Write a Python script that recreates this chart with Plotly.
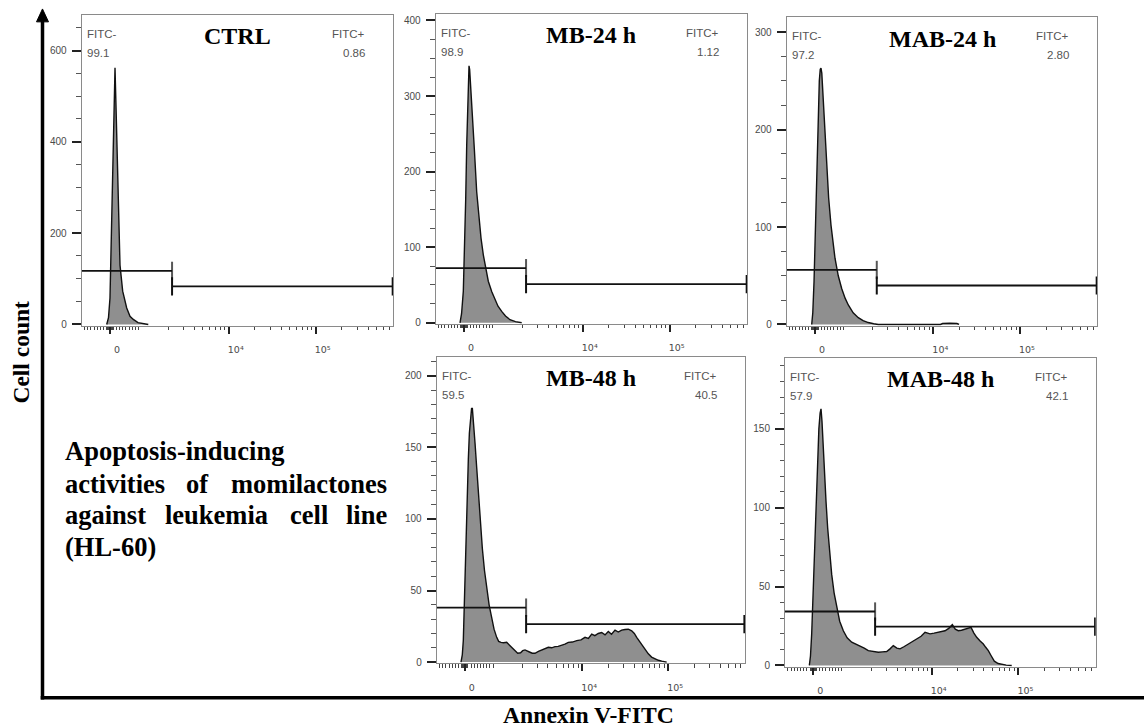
import numpy as np
import plotly.graph_objects as go

W, H = 1144, 728

# ---------------- data (display channel 0-1000 on the biexponential axis, cell counts) ----------------
panel_names = ["CTRL", "MB-24 h", "MAB-24 h", "MB-48 h", "MAB-48 h"]
fitc_neg = ["99.1", "98.9", "97.2", "59.5", "57.9"]
fitc_pos = ["0.86", "1.12", "2.80", "40.5", "42.1"]

ctrl_ch = [80.2, 86, 90.8, 95.6, 99.5, 103.7, 106.9, 110, 114.2, 118.7, 122.9, 131.5, 144.4,
           155, 165.6, 180.7, 197.7, 213.7]
ctrl_count = [0, 15, 58, 200, 350, 500, 562, 480, 348, 220, 130, 73, 36, 18, 11, 4, 1.5, 0]

mb24_ch = [78, 83, 88.6, 92.5, 96.3, 99.5, 102.7, 105, 106.9, 109, 112, 117.5, 124, 131.6, 138,
           145.4, 152.8, 160, 168.8, 180, 190.3, 200, 211.8, 224, 238.4, 256, 276]
mb24_count = [0, 12, 41.6, 95, 164, 235, 296, 330, 340, 335, 315, 287, 230, 173, 140, 112, 90, 72,
              55, 41, 31, 22, 15, 9, 4, 1.5, 0]

mab24_ch = [80.5, 84, 88, 91, 94.3, 98, 101.8, 105, 108, 110.4, 113, 117.8, 123, 128.8, 135, 142.6,
            149, 155.5, 166, 177, 188, 198.3, 214, 230.5, 246, 262.7, 280, 294.9, 495, 502, 525,
            548, 555]
mab24_count = [0, 12, 44, 85, 129, 178, 221, 250, 262, 263, 258, 231, 197, 163, 130, 102, 82, 68,
               50, 37, 27, 20, 12, 7, 4, 2, 0.8, 0, 0, 1, 1.2, 1, 0]

mb48_ch = [78.8, 83, 86.3, 90, 94, 98, 102.6, 106, 110, 113, 115.6, 118, 121, 124.3, 130, 135, 141,
           148, 155, 162.2, 170, 178.4, 186, 194.6, 201, 208.6, 217, 227, 235, 243.3, 252, 262.7,
           272, 279, 286.4, 294, 302.6, 310, 318.9, 330, 340.6, 351, 362, 373, 383.7, 394, 405.4,
           416, 426.9, 440, 454.2, 468, 481.1, 492, 502.8, 513, 524, 535.2, 546, 556.6, 567,
           578.4, 589, 600, 611, 621.5, 632.5, 641, 648.7, 656, 665, 676, 686.4, 697, 708, 719,
           729.8, 746]
mb48_count = [0, 5, 15, 45, 84, 115, 141.7, 160, 172, 177, 177.4, 172, 163, 153, 135, 118.7, 98,
              79.5, 64, 51.8, 40, 31, 23, 17.3, 14.5, 13.8, 13.5, 13.8, 12, 10.4, 8, 6.2, 6.5, 8,
              8.5, 7.5, 6.9, 6.2, 6.2, 7.5, 8.5, 9, 10.4, 10, 10.8, 11, 11.5, 12.5, 13.8, 14, 15,
              15.5, 17.3, 16.5, 19.6, 18.5, 20, 20.7, 19, 21.4, 19.5, 22.4, 21, 22.4, 22.8, 23,
              21.9, 20, 17.3, 15, 12.7, 9, 5.8, 3.5, 2.3, 1.3, 0.7, 0]

mab48_ch = [78.3, 82, 85.9, 91, 96.6, 101, 105.2, 109, 113, 115.9, 119, 122, 126.5, 132, 137.4, 144,
            150.3, 158, 166.4, 176, 187.7, 200, 214.7, 228, 241.4, 255, 268.1, 284, 300.3, 314,
            327.4, 338, 348.6, 360, 370.2, 384, 396.9, 410, 424, 438, 450.7, 459, 466.8, 480,
            493.5, 505, 515, 527, 538.6, 548, 557.8, 568, 579.4, 590, 598.7, 608, 617, 628, 638.3,
            646, 654.4, 664, 673.7, 686, 697.5, 712, 729.7]
mab48_count = [0, 6, 20, 48, 78.7, 105, 131, 150, 160, 162.7, 155, 142, 125, 104, 87, 70, 57.7, 46,
               36.7, 28, 22, 17.5, 14.7, 13.5, 12.6, 11, 9.4, 8.7, 8.4, 8.6, 8.8, 10.5, 12.6, 11,
               10.5, 12, 13.6, 15, 16.8, 18.5, 21, 20.5, 20, 20.5, 21, 21.5, 22, 23.5, 25.8, 23,
               22, 22.3, 23.1, 23.5, 24.1, 20.5, 17.8, 15.5, 13.6, 11.5, 9.4, 6, 2.7, 1.2, 0.6,
               0.2, 0]

hist_ch = [ctrl_ch, mb24_ch, mab24_ch, mb48_ch, mab48_ch]
hist_count = [ctrl_count, mb24_count, mab24_count, mb48_count, mab48_count]

# gates: split channel, left (FITC-) gate level, right (FITC+) gate level
gate_split = 290
gate_end = 998
gate_neg_level = [117.5, 72.3, 56, 38.1, 34.2]
gate_pos_level = [83.5, 51.2, 40, 26.6, 24.6]

# y axes: range and major / minor tick steps
y_top = [678, 408.7, 315.4, 213.2, 195.2]
y_bottom = [-2.8, -1.3, -1.3, -0.9, -0.8]
y_major = [200, 100, 100, 50, 50]
y_minor = [50, 25, 25, 10, 10]

# panel frames in pixels: left, right, top, bottom
frames = [
    (81.7, 393.3, 15, 328),
    (435.7, 747.3, 14, 326),
    (786.7, 1097.3, 17.3, 328),
    (436.7, 745, 359.3, 668),
    (785, 1095.7, 360, 671.3),
]


# biexponential display: linear around zero, logarithmic above 10^3
def to_channel(v):
    if abs(v) <= 1000:
        return 91 + 102 * v / 1000
    return 193 + 279 * np.log10(v / 1000)


labelled_vals = [0, 1e4, 1e5]
labelled_pos = [to_channel(v) for v in labelled_vals]
labelled_txt = ["0", "10\u2074", "10\u2075"]
decade3_pos = [to_channel(1000)]
minor_vals = ([-100 * k for k in range(1, 9)] + [10 * k for k in range(-9, 10) if k != 0]
              + [100 * k for k in range(1, 10)] + [1000 * k for k in range(2, 10)]
              + [10000 * k for k in range(2, 10)] + [100000 * k for k in range(2, 8)])
minor_pos = sorted(to_channel(v) for v in minor_vals)
minor_pos = [p for p in minor_pos if 0 <= p <= 1000]

SANS = "Liberation Sans, Arial, sans-serif"
SERIF = "Liberation Serif, Times New Roman, serif"
TICK_FONT = dict(family=SANS, size=10, color="#4a4a4a")
XTICK_FONT = dict(family="DejaVu Sans, sans-serif", size=9.5, color="#4a4a4a")


def px_x(p):
    return p / W


def px_y(p):
    return 1 - p / H


fig = go.Figure()
annotations = []

for i in range(5):
    k = "" if i == 0 else str(i + 1)
    xa, ya = "x" + k, "y" + k
    # histogram
    fig.add_trace(go.Scatter(
        x=hist_ch[i], y=hist_count[i], xaxis=xa, yaxis=ya, mode="lines",
        line=dict(color="#111111", width=1.4), fill="tozeroy", fillcolor="#8f8f8f",
        showlegend=False, hoverinfo="skip"))
    # FITC- gate
    fig.add_trace(go.Scatter(
        x=[0, gate_split], y=[gate_neg_level[i]] * 2, xaxis=xa, yaxis=ya,
        mode="lines+markers", line=dict(color="#111111", width=1.8),
        marker=dict(symbol="line-ns", size=[0, 13], line=dict(color="#111111", width=2)),
        showlegend=False, hoverinfo="skip"))
    # FITC+ gate
    fig.add_trace(go.Scatter(
        x=[gate_split, gate_end], y=[gate_pos_level[i]] * 2, xaxis=xa, yaxis=ya,
        mode="lines+markers", line=dict(color="#111111", width=1.8),
        marker=dict(symbol="line-ns", size=13, line=dict(color="#111111", width=2)),
        showlegend=False, hoverinfo="skip"))

    l, r, t, b = frames[i]
    xkey = "xaxis" + k
    ykey = "yaxis" + k
    over_key = "xaxis" + str(i + 6)
    fig.update_layout(**{
        xkey: dict(
            domain=[px_x(l), px_x(r)], range=[0, 1000], anchor=ya,
            showline=True, linecolor="#8a8a8a", linewidth=1, mirror=True,
            showgrid=False, zeroline=False,
            ticks="outside", tickmode="array", tickvals=labelled_pos, ticktext=labelled_txt,
            ticklen=7, tickwidth=1.6, tickcolor="#222222",
            tickfont=XTICK_FONT, ticklabelshift=7, ticklabelstandoff=8,
            minor=dict(ticks="outside", tickmode="array", tickvals=minor_pos,
                       ticklen=3.5, tickwidth=1, tickcolor="#444444", showgrid=False),
        ),
        # companion axis carrying the unlabelled 10^3 decade tick
        over_key: dict(
            overlaying=xa, anchor=ya, range=[0, 1000], side="bottom",
            showline=False, showgrid=False, zeroline=False, showticklabels=False,
            ticks="outside", tickmode="array", tickvals=decade3_pos,
            ticklen=7, tickwidth=1.6, tickcolor="#222222",
        ),
        ykey: dict(
            domain=[px_y(b), px_y(t)], range=[y_bottom[i], y_top[i]], anchor=xa,
            showline=True, linecolor="#8a8a8a", linewidth=1, mirror=True,
            showgrid=False, zeroline=False,
            ticks="outside", tickmode="linear", tick0=0, dtick=y_major[i],
            ticklen=9, tickwidth=2, tickcolor="#222222",
            tickfont=TICK_FONT, ticklabelstandoff=3,
            minor=dict(ticks="outside", dtick=y_minor[i], tick0=0,
                       ticklen=4.5, tickwidth=1, tickcolor="#555555", showgrid=False),
        ),
    })

    xd, yd = xa + " domain", ya + " domain"
    stat_font = dict(family=SANS, size=11.5, color="#555555")
    annotations += [
        dict(text="FITC-", xref=xd, yref=yd, x=0, y=1, xanchor="left", yanchor="middle",
             xshift=3, yshift=-19, showarrow=False, font=stat_font),
        dict(text=fitc_neg[i], xref=xd, yref=yd, x=0, y=1, xanchor="left", yanchor="middle",
             xshift=3, yshift=-38, showarrow=False, font=stat_font),
        dict(text="FITC+", xref=xd, yref=yd, x=1, y=1, xanchor="right", yanchor="middle",
             xshift=-26, yshift=-19, showarrow=False, font=stat_font),
        dict(text=fitc_pos[i], xref=xd, yref=yd, x=1, y=1, xanchor="right", yanchor="middle",
             xshift=-26, yshift=-38, showarrow=False, font=stat_font),
        dict(text="<b>%s</b>" % panel_names[i], xref=xd, yref=yd, x=0.5, y=1,
             xanchor="center", yanchor="middle", yshift=-21.5, showarrow=False,
             font=dict(family=SERIF, size=24, color="#000000")),
    ]

# axis captions
annotations.append(dict(text="<b>Cell count</b>", xref="paper", yref="paper",
                        x=px_x(21), y=px_y(355), textangle=-90, showarrow=False,
                        xanchor="center", yanchor="middle",
                        font=dict(family=SERIF, size=23.5, color="#000000")))
annotations.append(dict(text="<b>Annexin V-FITC</b>", xref="paper", yref="paper",
                        x=px_x(588), y=px_y(720), showarrow=False,
                        xanchor="center", yanchor="middle",
                        font=dict(family=SERIF, size=23.7, color="#000000")))

# justified description block, one word at a time
desc_font = dict(family=SERIF, size=26.5, color="#000000")
desc_words = [
    ("Apoptosis-inducing", 63.3, "left", 454),
    ("activities", 63.3, "left", 487),
    ("of", 197.5, "center", 487),
    ("momilactones", 389.3, "right", 487),
    ("against", 63.3, "left", 519),
    ("leukemia", 216.5, "center", 519),
    ("cell", 309, "center", 519),
    ("line", 389.3, "right", 519),
    ("(HL-60)", 63.3, "left", 551),
]
for word, xp, anchor, yp in desc_words:
    annotations.append(dict(text="<b>%s</b>" % word, xref="paper", yref="paper",
                            x=px_x(xp), y=px_y(yp), xanchor=anchor, yanchor="middle",
                            showarrow=False, font=desc_font))

# outer L-shaped axes with an arrow at the top
shapes = [
    dict(type="line", xref="paper", yref="paper", x0=px_x(42.5), x1=px_x(42.5),
         y0=px_y(20), y1=px_y(704.4), line=dict(color="#000000", width=3.5)),
    dict(type="line", xref="paper", yref="paper", x0=px_x(40.7), x1=px_x(1144),
         y0=px_y(702.7), y1=px_y(702.7), line=dict(color="#000000", width=3.5)),
    dict(type="path", xref="paper", yref="paper",
         path="M %f,%f L %f,%f L %f,%f Z" % (px_x(42.5), px_y(9), px_x(36.5), px_y(22),
                                             px_x(48.5), px_y(22)),
         fillcolor="#000000", line=dict(color="#000000", width=1)),
]

fig.update_layout(
    width=W, height=H, margin=dict(l=0, r=0, t=0, b=0),
    paper_bgcolor="white", plot_bgcolor="white",
    annotations=annotations, shapes=shapes, showlegend=False,
)

fig.write_html("out.html")
